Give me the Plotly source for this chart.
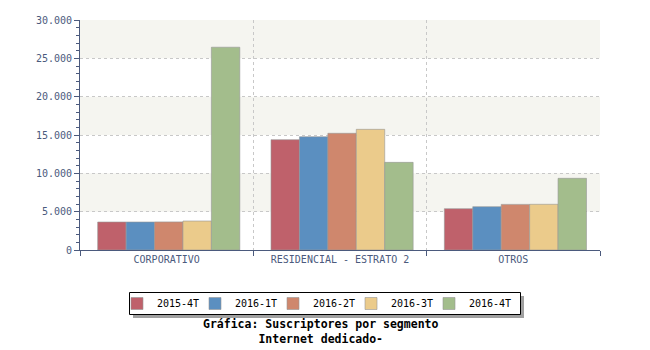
import plotly.graph_objects as go

# Subscribers by segment, dedicated internet
categories = ["CORPORATIVO", "RESIDENCIAL - ESTRATO 2", "OTROS"]
periods = ["2015-4T", "2016-1T", "2016-2T", "2016-3T", "2016-4T"]
values_2015_4t = [3650, 14390, 5390]
values_2016_1t = [3650, 14780, 5650]
values_2016_2t = [3660, 15220, 5950]
values_2016_3t = [3780, 15740, 5960]
values_2016_4t = [26450, 11430, 9350]
series = [values_2015_4t, values_2016_1t, values_2016_2t, values_2016_3t, values_2016_4t]
colors = ["#bf616b", "#5b8fc0", "#cf876d", "#ebcb8b", "#a3bd8c"]

y_max = 30000
band_step = 5000

FONT = "DejaVu Sans Mono"
AXIS_COLOR = "#4b5a7d"
W, H = 650, 350
L, R, T, B = 80, 50, 20, 100

# bar width and group shift, in category units
BAR_W = 0.164
GROUP_SHIFT = 0.012


def px_x(x):
    return (x - L) / (W - L - R)


def px_y(y):
    return (H - B - y) / (H - T - B)


fig = go.Figure()
n = len(periods)
for i, (name, vals, col) in enumerate(zip(periods, series, colors)):
    fig.add_trace(go.Bar(
        x=categories, y=vals, name=name,
        width=BAR_W, offset=-n / 2 * BAR_W + GROUP_SHIFT + i * BAR_W,
        marker=dict(color=col, line=dict(color="rgba(150,150,150,0.6)", width=1)),
    ))
# empty trailing legend slot so the last label is not clipped by the legend box
fig.add_trace(go.Scatter(x=[None], y=[None], name=" ", mode="markers",
                         marker=dict(color="rgba(0,0,0,0)"), hoverinfo="skip"))

# alternating horizontal bands behind the bars
shapes = []
for lo in range(band_step, y_max, 2 * band_step):
    shapes.append(dict(type="rect", xref="paper", yref="y", x0=0, x1=1,
                       y0=lo, y1=lo + band_step, fillcolor="#f5f5f0",
                       line=dict(width=0), layer="below"))

# legend frame with drop shadow
shapes.append(dict(type="rect", xref="paper", yref="paper",
                   x0=px_x(133), x1=px_x(524), y0=px_y(318), y1=px_y(296),
                   fillcolor="#a0a0a0", line=dict(width=0), layer="below"))
shapes.append(dict(type="rect", xref="paper", yref="paper",
                   x0=px_x(129.5), x1=px_x(520.5), y0=px_y(314.5), y1=px_y(292.5),
                   fillcolor="white", line=dict(color="black", width=1), layer="below"))

fig.update_layout(
    width=W, height=H,
    margin=dict(l=L, r=R, t=T, b=B),
    paper_bgcolor="white", plot_bgcolor="white",
    separators=",.",
    barmode="group",
    font=dict(family=FONT, size=10, color=AXIS_COLOR),
    shapes=shapes,
    showlegend=True,
    legend=dict(
        orientation="h", xref="container", yref="container",
        x=117 / W, xanchor="left", y=1 - 303.5 / H, yanchor="middle",
        bgcolor="rgba(0,0,0,0)", borderwidth=0,
        font=dict(family=FONT, size=10, color="black"),
        itemwidth=30, traceorder="normal", entrywidth=33,
    ),
    annotations=[
        dict(text="<b>Gráfica: Suscriptores por segmento</b><br><b>Internet dedicado-</b>",
             xref="paper", yref="paper", x=px_x(320), y=px_y(331.5),
             xanchor="center", yanchor="middle", showarrow=False,
             font=dict(family=FONT, size=11.5, color="black")),
    ],
)

fig.update_xaxes(
    showline=True, linecolor=AXIS_COLOR, linewidth=1,
    ticks="outside", tickson="boundaries", ticklen=5, tickcolor=AXIS_COLOR,
    showgrid=True, gridcolor="#c8c8c8", griddash="3px,3px", gridwidth=1,
    tickfont=dict(family=FONT, size=10, color=AXIS_COLOR),
)
fig.update_yaxes(
    range=[0, y_max], dtick=band_step, tickformat=",d",
    showline=True, linecolor=AXIS_COLOR, linewidth=1,
    ticks="outside", ticklen=5, tickcolor=AXIS_COLOR,
    minor=dict(dtick=1000, ticks="outside", ticklen=3, tickcolor=AXIS_COLOR, showgrid=False),
    showgrid=True, gridcolor="#c8c8c8", griddash="3px,3px", gridwidth=1,
    zeroline=False,
    tickfont=dict(family=FONT, size=10, color=AXIS_COLOR),
)

fig.write_html("out.html")
